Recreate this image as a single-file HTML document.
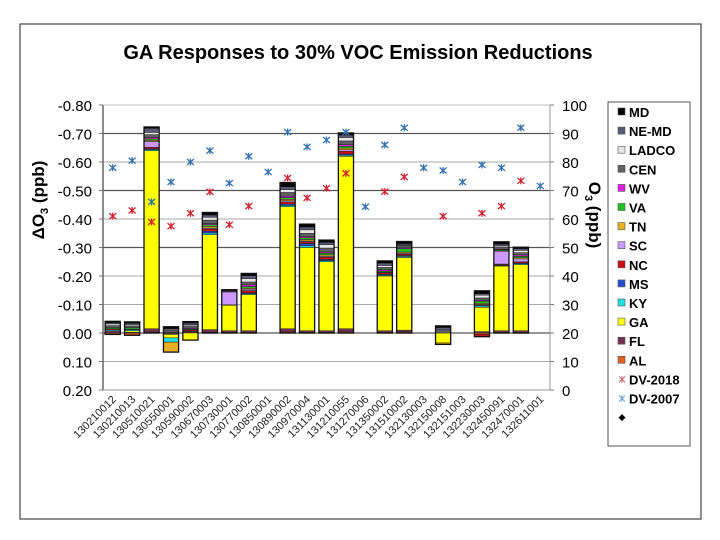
<!DOCTYPE html>
<html><head><meta charset="utf-8"><style>
body{margin:0;background:#fff;}
svg{display:block;font-family:"Liberation Sans",Arial,sans-serif;}
</style></head><body>
<svg id="c" width="720" height="540" viewBox="0 0 720 540">
<rect x="20" y="24" width="681" height="495" fill="#fff" stroke="#444" stroke-width="1.2"/>
<text x="358" y="59" text-anchor="middle" font-size="20" font-weight="bold">GA Responses to 30% VOC Emission Reductions</text>
<text transform="translate(44,200) rotate(-90)" text-anchor="middle" font-size="17" font-weight="bold">ΔO<tspan font-size="11" dy="4">3</tspan><tspan dy="-4"> (ppb)</tspan></text>
<text transform="translate(589,215) rotate(90)" text-anchor="middle" font-size="17" font-weight="bold">O<tspan font-size="11" dy="4">3</tspan><tspan dy="-4"> (ppb)</tspan></text>
<g id="grid"></g><g id="bars"></g><g id="marks"></g><g id="axes"></g>
<g id="legend"></g>
</svg>
<script>
const sites=["130210012","130210013","130510021","130550001","130590002","130670003","130730001","130770002","130850001","130890002","130970004","131130001","131210055","131270006","131350002","131510002","132130003","132150008","132151003","132230003","132450091","132470001","132611001"];
const leftTicks=[-0.8,-0.7,-0.6,-0.5,-0.4,-0.3,-0.2,-0.1,0,0.1,0.2];
const leftTickLabels=["-0.80","-0.70","-0.60","-0.50","-0.40","-0.30","-0.20","-0.10","0.00","0.10","0.20"];
const rightTicks=[0,10,20,30,40,50,60,70,80,90,100];
const al=[0.005,0.008,-0.003,0,0,-0.003,-0.002,-0.002,0,-0.004,-0.002,-0.002,-0.004,0,-0.002,-0.004,0,0,0,0.005,-0.002,-0.002,0];
const fl=[-0.008,-0.003,-0.012,0.005,-0.005,-0.009,-0.006,-0.006,0,-0.011,-0.006,-0.006,-0.011,0,-0.006,-0.006,0,0,0,-0.005,-0.006,-0.006,0];
const ga=[0,-0.005,-0.625,0.012,0.025,-0.333,-0.09,-0.127,0,-0.428,-0.292,-0.242,-0.605,0,-0.192,-0.255,0,0.035,0,-0.085,-0.227,-0.232,0];
const ky=[-0.004,-0.004,-0.004,0.015,-0.002,-0.006,0,-0.003,0,-0.005,-0.006,-0.004,-0.004,0,-0.003,-0.004,0,0,0,-0.005,-0.002,-0.003,0];
const ms=[0,-0.002,-0.003,0,0,-0.006,0,-0.003,0,-0.004,-0.008,-0.004,-0.004,0,-0.003,-0.003,0,0,0,-0.003,-0.002,-0.003,0];
const nc=[-0.003,0,-0.005,0,-0.004,-0.008,-0.001,-0.008,0,-0.008,-0.006,-0.008,-0.01,0,-0.005,-0.005,0,0,0,0.008,-0.003,-0.004,0];
const sc=[0,0,-0.02,0,0,-0.003,-0.045,-0.005,0,-0.004,-0.003,-0.003,-0.005,0,-0.002,-0.003,0,0,0,-0.002,-0.045,-0.01,0];
const tn=[0,0,-0.004,0.035,0,-0.006,0,-0.003,0,-0.005,-0.005,-0.005,-0.006,0,-0.003,-0.004,0,0.005,0,-0.004,-0.002,-0.004,0];
const va=[-0.004,-0.005,-0.005,-0.002,-0.003,-0.006,0,-0.006,0,-0.006,-0.006,-0.006,-0.006,0,-0.003,-0.012,0,0,0,-0.008,-0.003,-0.005,0];
const wv=[0,0,-0.005,0,-0.003,-0.004,0,-0.006,0,-0.005,-0.004,-0.004,-0.006,0,-0.003,-0.003,0,0,0,-0.003,-0.002,-0.005,0];
const cen=[-0.007,-0.006,-0.01,-0.008,-0.008,-0.012,-0.003,-0.01,0,-0.013,-0.012,-0.014,-0.013,0,-0.008,-0.008,0,-0.008,0,-0.008,-0.008,-0.008,0];
const ladco=[-0.006,-0.005,-0.008,-0.003,-0.004,-0.01,0,-0.012,0,-0.01,-0.012,-0.012,-0.012,0,-0.007,-0.002,0,-0.003,0,-0.01,-0.005,-0.008,0];
const nemd=[-0.004,-0.004,-0.014,-0.002,-0.006,-0.008,-0.002,-0.01,0,-0.01,-0.01,-0.008,-0.008,0,-0.008,-0.004,0,-0.008,0,-0.005,-0.005,-0.006,0];
const md=[-0.005,-0.005,-0.005,-0.007,-0.005,-0.009,-0.003,-0.008,0,-0.015,-0.01,-0.008,-0.008,0,-0.008,-0.008,0,-0.006,0,-0.01,-0.008,-0.005,0];
const dv2018=[61,63,59,57.5,62,69.5,58,64.5,null,74.4,67.4,70.8,76,null,69.6,74.8,null,61,null,62,64.5,73.4,null];
const dv2007=[78,80.5,66,73,80,84,72.6,82,76.5,90.5,85.3,87.7,90.5,64.3,86,92,78,77,73,79,78,92,71.6];
const stateNames=["AL","FL","GA","KY","MS","NC","SC","TN","VA","WV","CEN","LADCO","NE-MD","MD"];
const stateData=[al,fl,ga,ky,ms,nc,sc,tn,va,wv,cen,ladco,nemd,md];
const stateColors=["#e06020","#703050","#ffff00","#20e0e0","#2050d0","#cc1010","#cc99ff","#e8b020","#20c020","#e020e0","#606060","#e6e6e6","#5a5a78","#000000"];
const NS="http://www.w3.org/2000/svg";
const X0=103,X1=550,Y0=105,Y1=390;
const bw=(X1-X0)/sites.length;
function xc(i){return X0+bw*(i+0.5);}
function yL(v){return Y0+(v+0.8)/1.0*(Y1-Y0);}
function yR(v){return Y1-v/100*(Y1-Y0);}
function mk(tag,attrs,parent){const e=document.createElementNS(NS,tag);for(const k in attrs)e.setAttribute(k,attrs[k]);parent.appendChild(e);return e;}
const grid=document.getElementById('grid'),axes=document.getElementById('axes'),bars=document.getElementById('bars'),marks=document.getElementById('marks'),legend=document.getElementById('legend');
const darkLines=[-0.7,-0.5,-0.3,0];
leftTicks.forEach((t,i)=>{
  const y=yL(t);
  if(t!==0.2){const l=mk('line',{x1:X0,x2:X1,y1:y,y2:y,stroke:darkLines.includes(t)?'#555':'#aaa','stroke-width':darkLines.includes(t)?1.3:1},grid);
  
  }
  const tx=mk('text',{x:92,y:y+6,'text-anchor':'end','font-size':15},axes);tx.textContent=leftTickLabels[i];
  
  
  const tk=mk('line',{x1:X0-4,x2:X0,y1:y,y2:y,stroke:'#777'},axes);
  
  
});
rightTicks.forEach(t=>{
  const y=yR(t);
  const tx=mk('text',{x:562,y:y+6,'font-size':15},axes);tx.textContent=t;
  
  
  const tk=mk('line',{x1:X1,x2:X1+4,y1:y,y2:y,stroke:'#777'},axes);
  
  
});
let a=mk('line',{x1:X0,x2:X0,y1:Y0,y2:Y1,stroke:'#666','stroke-width':1.5},axes);


a=mk('line',{x1:X1,x2:X1,y1:Y0,y2:Y1,stroke:'#999','stroke-width':1},axes);


a=mk('line',{x1:X0,x2:X1,y1:Y1,y2:Y1,stroke:'#999','stroke-width':1},axes);


a=mk('line',{x1:X0,x2:X1,y1:Y0,y2:Y0,stroke:'#bbb','stroke-width':1},axes);


sites.forEach((s,i)=>{
  const tx=mk('text',{transform:`translate(${xc(i)+4},${Y1+10}) rotate(-45)`,'text-anchor':'end','font-size':11,fill:'#222'},axes);
  tx.textContent=s;
  
  
  let neg=0,pos=0,any=false,top=0,bot=0;
  const w=bw*0.78,x=xc(i)-w/2;
  stateData.forEach((arr,k)=>{
    const v=arr[i];if(!v)return;any=true;
    let y1,y2;
    if(v<0){y1=yL(neg+v);y2=yL(neg);neg+=v;}else{y1=yL(pos);y2=yL(pos+v);pos+=v;}
    const r=mk('rect',{x:x,y:y1,width:w,height:Math.max(0.5,y2-y1),fill:stateColors[k],stroke:'#222','stroke-width':0.5},bars);
    
    
  });
  if(any){const o=mk('rect',{x:x,y:yL(neg),width:w,height:yL(pos)-yL(neg),fill:'none',stroke:'#111','stroke-width':1.3},bars);
    
    }
});
function star(x,y,c,name){
  const g=mk('g',{stroke:c,'stroke-width':1.3},marks);
  
  
  mk('line',{x1:x-3.5,y1:y-3,x2:x+3.5,y2:y+3},g);
  mk('line',{x1:x-3.5,y1:y+3,x2:x+3.5,y2:y-3},g);
  mk('line',{x1:x,y1:y-3.5,x2:x,y2:y+3.5},g);
}
dv2007.forEach((v,i)=>{if(v!=null)star(xc(i),yR(v),'#3070b0','dv-2007-marker');});
dv2018.forEach((v,i)=>{if(v!=null)star(xc(i),yR(v),'#d02030','dv-2018-marker');});
// legend
const lb=mk('rect',{x:608,y:102,width:82,height:344,fill:'#fff',stroke:'#555','stroke-width':1},legend);


const lgNames=["MD","NE-MD","LADCO","CEN","WV","VA","TN","SC","NC","MS","KY","GA","FL","AL","DV-2018","DV-2007",""];
lgNames.forEach((n,j)=>{
  const y=112+j*19.1;
  const g=mk('g',{},legend);
  
  
  if(j<14){const k=13-j;mk('rect',{x:618,y:y-4,width:7,height:7,fill:stateColors[k],stroke:'#555','stroke-width':0.6},g);}
  else if(j<16){const c=j===14?'#d06070':'#70a0d0';mk('line',{x1:619,y1:y-3,x2:625,y2:y+3,stroke:c},g);mk('line',{x1:619,y1:y+3,x2:625,y2:y-3,stroke:c},g);mk('line',{x1:622,y1:y-3.5,x2:622,y2:y+3.5,stroke:c},g);}
  else{mk('path',{d:`M622 ${y-3.5} L625.5 ${y} L622 ${y+3.5} L618.5 ${y} Z`,fill:'#000'},g);}
  if(n){const t=mk('text',{x:629,y:y+5,'font-size':13,'font-weight':'bold'},g);t.textContent=n;}
});
</script>
</body></html>
